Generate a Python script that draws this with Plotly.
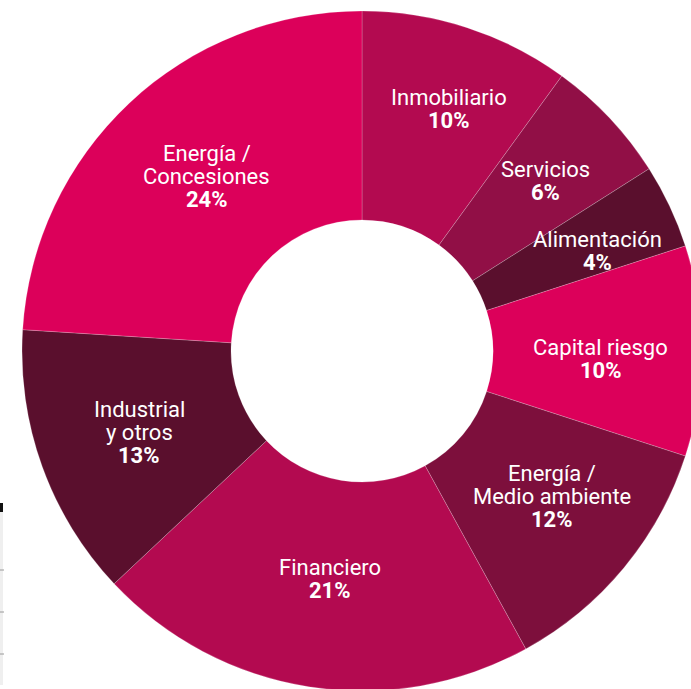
import math
import plotly.graph_objects as go

# Sector breakdown (percent of portfolio), clockwise from 12 o'clock
sectors = [
    "Inmobiliario",
    "Servicios",
    "Alimentación",
    "Capital riesgo",
    "Energía / Medio ambiente",
    "Financiero",
    "Industrial y otros",
    "Energía / Concesiones",
]
label_lines = [
    ["Inmobiliario"],
    ["Servicios"],
    ["Alimentación"],
    ["Capital riesgo"],
    ["Energía /", "Medio ambiente"],
    ["Financiero"],
    ["Industrial", "y otros"],
    ["Energía /", "Concesiones"],
]
shares = [10, 6, 4, 10, 12, 21, 13, 24]
colors = ["#B30A50", "#910F46", "#5A0F2D", "#DC005A",
          "#7D0F3C", "#B30A50", "#5A0F2D", "#DC005A"]

# ---- layout geometry (pixels) ----
W, H = 704, 692
cx, cy, R = 362, 351, 340
hole = 131 / 340
# label placement: radial distance from the centre and a small angular nudge
# (degrees) applied to each slice's mid-angle
label_radius_px = [257, 250, 256, 239, 239, 230, 237, 234]
label_nudge_deg = [1.8, 0.3, 2.2, 2.0, -2.1, -1.0, -0.2, 1.6]
line_step = 23
font_family = "Roboto, 'Open Sans', sans-serif"
font_size = 22

fig = go.Figure(
    go.Pie(
        labels=sectors,
        values=shares,
        sort=False,
        direction="clockwise",
        rotation=0,
        hole=hole,
        marker=dict(colors=colors,
                    line=dict(color="rgba(255,255,255,0.35)", width=0.6)),
        textinfo="none",
        hoverinfo="label+percent",
        showlegend=False,
        domain=dict(x=[(cx - R) / W, (cx + R) / W],
                    y=[(H - (cy + R)) / H, (H - (cy - R)) / H]),
    )
)

# Labels: sector name(s) plus bold share, centred near each slice's mid-angle
total = sum(shares)
annotations = []
cum = 0.0
for lines, val, rad, nudge in zip(label_lines, shares, label_radius_px, label_nudge_deg):
    mid = (cum + val / 2) / total * 2 * math.pi + math.radians(nudge)
    cum += val
    px = cx + rad * math.sin(mid)
    py = cy - rad * math.cos(mid)
    texts = lines + [f"<b>{val}%</b>"]
    n = len(texts)
    for i, t in enumerate(texts):
        ly = py + (i - (n - 1) / 2) * line_step
        annotations.append(dict(
            x=px / W, y=1 - ly / H, xref="paper", yref="paper",
            text=t, showarrow=False, xanchor="center", yanchor="middle",
            font=dict(family=font_family, size=font_size, color="#ffffff"),
        ))

# Table edge visible at the lower-left border of the page
shapes = [
    dict(type="rect", xref="paper", yref="paper", x0=0, x1=3 / W,
         y0=1 - 685 / H, y1=1 - 512 / H, fillcolor="#efefef", line_width=0),
    dict(type="rect", xref="paper", yref="paper", x0=0, x1=3 / W,
         y0=1 - 512 / H, y1=1 - 503 / H, fillcolor="#111111", line_width=0),
]
for yy in (570, 612, 654):
    shapes.append(dict(type="line", xref="paper", yref="paper", x0=0, x1=4 / W,
                       y0=1 - yy / H, y1=1 - yy / H,
                       line=dict(color="#9a9a9a", width=1)))

fig.update_layout(
    width=W, height=H, autosize=False,
    margin=dict(l=0, r=0, t=0, b=0),
    paper_bgcolor="#ffffff", plot_bgcolor="#ffffff",
    annotations=annotations,
    shapes=shapes,
)

fig.write_html(
    "out.html",
    config={"displayModeBar": False},
    post_script=(
        "document.documentElement.style.overflow='hidden';"
        "document.body.style.overflow='hidden';"
        "document.body.style.margin='0';"
    ),
)
